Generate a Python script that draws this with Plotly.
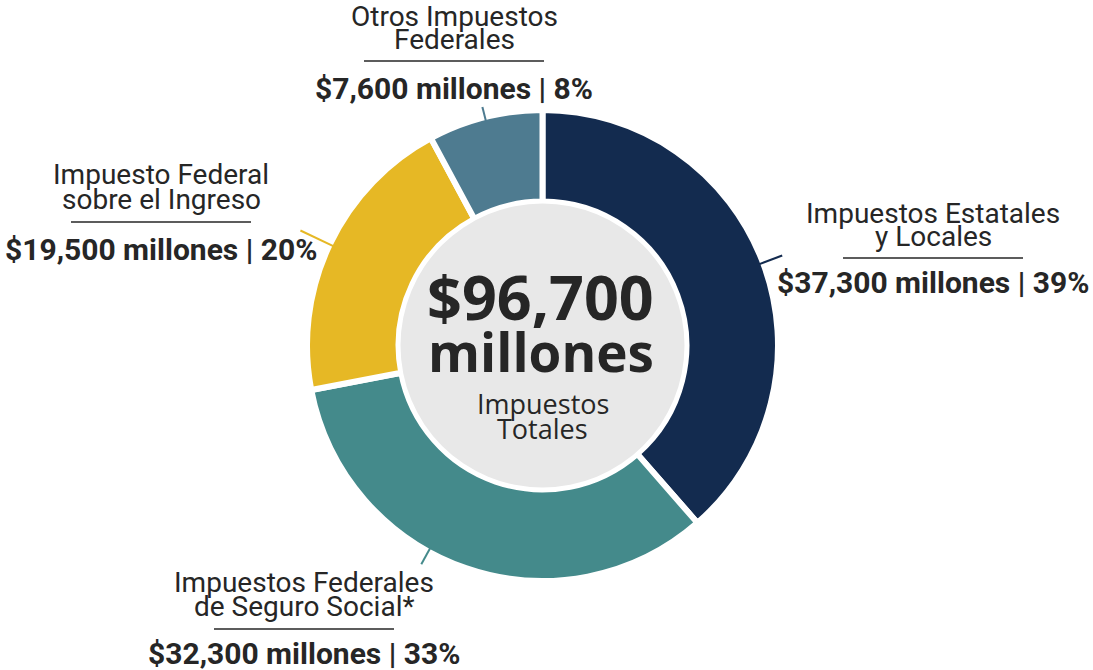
import plotly.graph_objects as go
import numpy as np

# data (millones de dólares)
name_lines = [
    ["Impuestos Estatales", "y Locales"],
    ["Impuestos Federales", "de Seguro Social*"],
    ["Impuesto Federal", "sobre el Ingreso"],
    ["Otros Impuestos", "Federales"],
]
values = [37300, 32300, 19500, 7600]
colors = ["#132b4f", "#448a8b", "#e6b825", "#4e7b90"]
total_text = ["$96,700", "millones"]
total_sub = ["Impuestos", "Totales"]

W, H = 1093, 670
cx, cy = 542.5, 345.5          # donut centre (px)
R = 235.5                      # outer radius incl. white stroke
GAP = 6

def px(x, y):
    return x / W, 1 - y / H

fig = go.Figure()
fig.add_trace(go.Pie(
    values=values,
    labels=[" ".join(n) for n in name_lines],
    marker=dict(colors=colors, line=dict(color="white", width=GAP)),
    hole=0.611,
    sort=False,
    direction="clockwise",
    rotation=0,
    textinfo="none",
    hoverinfo="label+value+percent",
    showlegend=False,
    domain=dict(x=[(cx - R) / W, (cx + R) / W],
                y=[1 - (cy + R) / H, 1 - (cy - R) / H]),
))

shapes = []
annotations = []

# grey centre disc
r_in = 142
x0, y0 = px(cx - r_in, cy + r_in)
x1, y1 = px(cx + r_in, cy - r_in)
shapes.append(dict(type="circle", xref="paper", yref="paper", x0=x0, y0=y0, x1=x1, y1=y1,
                   fillcolor="#e8e8e8", line=dict(width=0), layer="above"))

# leader lines: angle (deg clockwise from top) and outer radius
total = sum(values)
cum = np.cumsum([0] + values)
mid = [(cum[i] + cum[i + 1]) / 2 / total * 360 for i in range(len(values))]
leader_ang = [mid[0], 209, mid[2], mid[3]]
leader_r = [256, 250, 268, 246]
for ang, ro, col in zip(leader_ang, leader_r, colors):
    a = np.radians(ang)
    xa, ya = px(cx + 231 * np.sin(a), cy - 231 * np.cos(a))
    xb, yb = px(cx + ro * np.sin(a), cy - ro * np.cos(a))
    shapes.append(dict(type="line", xref="paper", yref="paper", x0=xa, y0=ya, x1=xb, y1=yb,
                       line=dict(color=col, width=2), layer="above"))

# label layout: centre x, y of line1, line2, rule y, value y
label_pos = [
    (933, 213, 237, 258, 282),
    (304, 582, 606, 629, 653),
    (161, 174, 199, 222, 249),
    (454, 16, 40, 61, 88),
]
rule_half = 90
dark = "#262626"
for names, v, (x, y1l, y2l, yr, yv) in zip(name_lines, values, label_pos):
    for t, yy in zip(names, [y1l, y2l]):
        xx, yp = px(x, yy)
        annotations.append(dict(text=t, x=xx, y=yp, xref="paper", yref="paper",
                                xanchor="center", yanchor="middle", showarrow=False,
                                font=dict(family="Roboto", size=28, color=dark)))
    pct = round(v / total * 100)
    xx, yp = px(x, yv)
    annotations.append(dict(text=f"<b>${v:,} millones | {pct}%</b>", x=xx, y=yp,
                            xref="paper", yref="paper", xanchor="center", yanchor="middle",
                            showarrow=False, font=dict(family="Roboto", size=30, color=dark)))
    xa, ya = px(x - rule_half, yr)
    xb, _ = px(x + rule_half, yr)
    shapes.append(dict(type="line", xref="paper", yref="paper", x0=xa, y0=ya, x1=xb, y1=ya,
                       line=dict(color=dark, width=1.5)))

# centre text
for t, yy, sz in zip(total_text, [296, 351], [61, 53]):
    xx, yp = px(cx - 2, yy)
    annotations.append(dict(text=f"<b>{t}</b>", x=xx, y=yp, xref="paper", yref="paper",
                            xanchor="center", yanchor="middle", showarrow=False,
                            font=dict(family="Open Sans", size=sz, color=dark)))
for t, yy in zip(total_sub, [403, 428]):
    xx, yp = px(cx, yy)
    annotations.append(dict(text=t, x=xx, y=yp, xref="paper", yref="paper",
                            xanchor="center", yanchor="middle", showarrow=False,
                            font=dict(family="Open Sans", size=27, color=dark)))

fig.update_layout(
    width=W, height=H,
    margin=dict(l=0, r=0, t=0, b=0),
    paper_bgcolor="white", plot_bgcolor="white",
    shapes=shapes, annotations=annotations,
)

fig.write_html("out.html", config={"displayModeBar": False},
               post_script="document.body.style.margin='0px';")
